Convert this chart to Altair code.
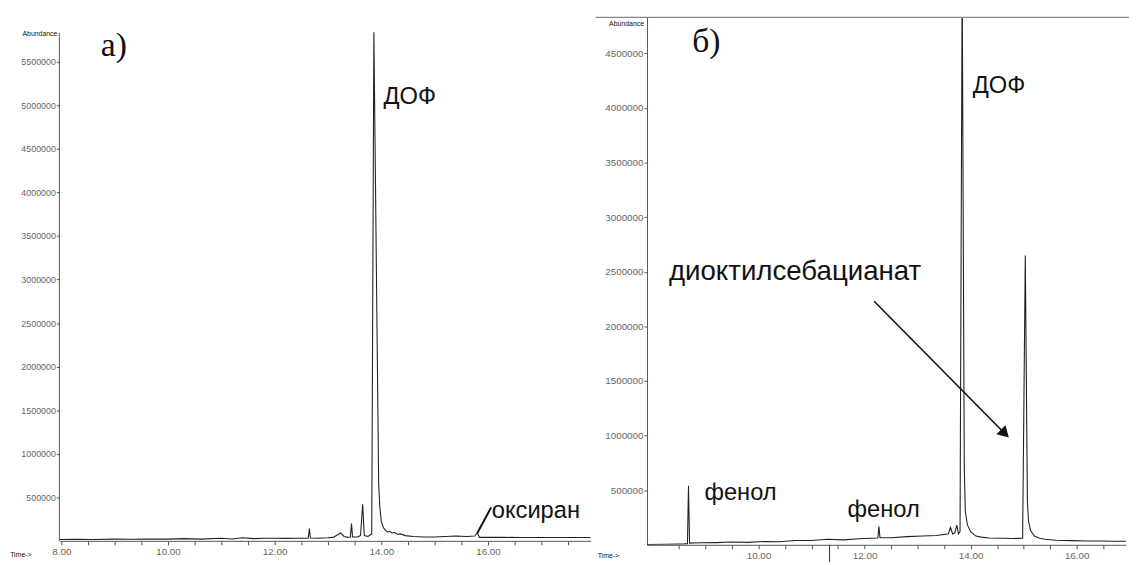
import altair as alt
import pandas as pd

# ---------------- data ----------------
LEFT_TIME = [7.963, 8.3, 8.6, 9.0, 9.3, 9.6, 10.0, 10.3, 10.6, 11.0,
             11.2, 11.4, 11.6, 11.8, 12.0, 12.2, 12.4, 12.6, 12.63, 12.65,
             12.67, 12.8, 13.0, 13.1, 13.18, 13.24, 13.3, 13.38, 13.42, 13.44,
             13.46, 13.55, 13.61, 13.65, 13.68, 13.75, 13.82, 13.86, 13.95, 13.97,
             14.0, 14.04, 14.08, 14.12, 14.16, 14.2, 14.25, 14.3, 14.36, 14.45,
             14.6, 14.8, 15.0, 15.2, 15.4, 15.6, 15.75, 15.8, 15.84, 16.0,
             16.3, 16.6, 17.0, 17.4, 17.926]
LEFT_ABUND = [15000, 17000, 15000, 20000, 18000, 22000, 20000, 25000, 20000, 30000,
              22000, 35000, 25000, 30000, 30000, 28000, 30000, 30000, 32000, 140000,
              32000, 30000, 35000, 40000, 70000, 90000, 50000, 40000, 45000, 200000,
              45000, 45000, 60000, 420000, 60000, 50000, 80000, 5840000, 650000, 400000,
              220000, 150000, 120000, 100000, 110000, 90000, 95000, 75000, 80000, 60000,
              50000, 45000, 45000, 50000, 55000, 50000, 55000, 90000, 40000, 40000,
              40000, 38000, 38000, 38000, 38000]

RIGHT_TIME = [7.898, 8.3, 8.6, 8.66, 8.68, 8.70, 8.9, 9.2, 9.5, 9.8,
              10.1, 10.4, 10.7, 11.0, 11.3, 11.6, 11.9, 12.1, 12.25, 12.27,
              12.29, 12.5, 12.8, 13.1, 13.35, 13.5, 13.58, 13.62, 13.66, 13.7,
              13.74, 13.77, 13.80, 13.84, 13.88, 13.9, 13.94, 14.0, 14.1, 14.2,
              14.35, 14.6, 14.8, 14.98, 15.03, 15.07, 15.09, 15.13, 15.2, 15.3,
              15.4, 15.6, 15.9, 16.2, 16.5, 16.7, 16.93]
RIGHT_ABUND = [3000, 5000, 8000, 10000, 540000, 15000, 18000, 20000, 25000, 22000,
               30000, 28000, 40000, 40000, 50000, 45000, 55000, 60000, 62000, 170000,
               65000, 65000, 75000, 80000, 85000, 95000, 100000, 160000, 100000, 110000,
               180000, 100000, 120000, 5200000, 700000, 300000, 180000, 120000, 80000, 70000,
               62000, 60000, 58000, 60000, 2650000, 400000, 220000, 130000, 80000, 60000,
               50000, 42000, 38000, 35000, 35000, 33000, 32000]

LEFT_Y_TICKS = [500000, 1000000, 1500000, 2000000, 2500000, 3000000,
                3500000, 4000000, 4500000, 5000000, 5500000]
RIGHT_Y_TICKS = [500000, 1000000, 1500000, 2000000, 2500000, 3000000,
                 3500000, 4000000, 4500000]
LEFT_X_TICKS = [8.0, 8.5, 9.0, 9.5, 10.0, 10.5, 11.0, 11.5, 12.0, 12.5,
                13.0, 13.5, 14.0, 14.5, 15.0, 15.5, 16.0, 16.5, 17.0, 17.5]
RIGHT_X_TICKS = [8.5, 9.0, 9.5, 10.0, 10.5, 11.0, 11.5, 12.0, 12.5,
                 13.0, 13.5, 14.0, 14.5, 15.0, 15.5, 16.0, 16.5]

# annotations
LEFT_PEAK_LABELS = ["ДОФ", "оксиран"]
LEFT_PEAK_LABEL_T = [14.04, 16.07]
LEFT_PEAK_LABEL_A = [5100000, 340000]
LEFT_PANEL_LABEL = ["а)"]
LEFT_PANEL_LABEL_T = [8.74]
LEFT_PANEL_LABEL_A = [5680000]
LEFT_LEADER = {"t": [15.80], "a": [90000], "t2": [16.06], "a2": [385000]}

RIGHT_PEAK_LABELS = ["ДОФ", "фенол", "фенол"]
RIGHT_PEAK_LABEL_T = [14.04, 8.98, 11.68]
RIGHT_PEAK_LABEL_A = [4200000, 470000, 320000]
RIGHT_COMPOUND_LABEL = ["диоктилсебацианат"]
RIGHT_COMPOUND_LABEL_T = [8.31]
RIGHT_COMPOUND_LABEL_A = [2500000]
RIGHT_PANEL_LABEL = ["б)"]
RIGHT_PANEL_LABEL_T = [8.75]
RIGHT_PANEL_LABEL_A = [4600000]
RIGHT_ARROW = {"t": [12.18], "a": [2230000], "t2": [14.62], "a2": [1030000]}

# ---------------- helpers ----------------
LINE_COLOR = "#222222"
AXIS_COLOR = "#555555"
LABEL_COLOR = "#666666"


def x_axis(values, show_first=True):
    cond = "datum.value % 2 == 0" if show_first else "datum.value % 2 == 0 && datum.value > 8.2"
    return alt.Axis(title=None, values=values, grid=False,
                    labelExpr=f"{cond} ? format(datum.value, '.2f') : ''",
                    labelFont="Liberation Sans", labelFontSize=10, labelColor=LABEL_COLOR,
                    domainColor=AXIS_COLOR, tickColor=AXIS_COLOR, tickSize=4,
                    labelPadding=2, labelFlush=False, labelOverlap=False)


def y_axis(values, fsize, domain=True):
    return alt.Axis(title=None, values=values, format="d", grid=False,
                    labelFont="Liberation Sans", labelFontSize=fsize, labelColor=LABEL_COLOR,
                    domain=domain, domainColor=AXIS_COLOR, tickColor=AXIS_COLOR, tickSize=3,
                    labelPadding=1, minExtent=52, maxExtent=52)


def make_panel_helpers(xs, ys, xax, yax):
    def enc(chart, **extra):
        return chart.encode(x=alt.X("t:Q", scale=xs, axis=xax),
                            y=alt.Y("a:Q", scale=ys, axis=yax), **extra)

    def text_layer(texts, ts, vals, size, font, align="left"):
        df = pd.DataFrame({"t": ts, "a": vals, "label": texts})
        ch = alt.Chart(df).mark_text(align=align, baseline="middle", font=font,
                                     fontSize=size, color="#111111")
        return enc(ch, text="label:N")

    return enc, text_layer


# ---------------- left panel ----------------
W1, H1 = 538, 530
xs1 = alt.Scale(domain=[7.963, 17.926], nice=False, zero=False)
ys1 = alt.Scale(domain=[0, 6010000], nice=False)
xax1 = x_axis(LEFT_X_TICKS)
yax1 = y_axis(LEFT_Y_TICKS, 9, domain=False)
enc1, text1 = make_panel_helpers(xs1, ys1, xax1, yax1)

left_df = pd.DataFrame({"t": LEFT_TIME, "a": LEFT_ABUND})
left_line = enc1(alt.Chart(left_df).mark_line(color=LINE_COLOR, strokeWidth=1.1, clip=True))

left_yline = enc1(alt.Chart(pd.DataFrame({"t": [7.963], "a": [0], "a2": [5830000]})).mark_rule(
    color=AXIS_COLOR, strokeWidth=1), y2="a2:Q")

left_leader = enc1(alt.Chart(pd.DataFrame(LEFT_LEADER)).mark_rule(color="#111111", strokeWidth=2),
                   x2="t2:Q", y2="a2:Q")

left = alt.layer(
    left_line,
    left_yline,
    left_leader,
    text1(LEFT_PEAK_LABELS, LEFT_PEAK_LABEL_T, LEFT_PEAK_LABEL_A, 24, "Liberation Sans"),
    text1(LEFT_PANEL_LABEL, LEFT_PANEL_LABEL_T, LEFT_PANEL_LABEL_A, 34, "Liberation Serif"),
    text1(["Abundance"], [7.926], [5816000], 7, "Liberation Sans", align="right"),
    text1(["Time->"], [7.04], [-160000], 7, "Liberation Sans"),
).properties(width=W1, height=H1)

# ---------------- right panel ----------------
W2, H2 = 485, 534
xs2 = alt.Scale(domain=[7.898, 16.93], nice=False, zero=False)
ys2 = alt.Scale(domain=[0, 4830000], nice=False)
xax2 = x_axis(RIGHT_X_TICKS, show_first=False)
yax2 = y_axis(RIGHT_Y_TICKS, 10)
enc2, text2 = make_panel_helpers(xs2, ys2, xax2, yax2)

right_df = pd.DataFrame({"t": RIGHT_TIME, "a": RIGHT_ABUND})
right_line = enc2(alt.Chart(right_df).mark_line(color=LINE_COLOR, strokeWidth=1.1, clip=True))

right_frame = alt.Chart(pd.DataFrame({"k": [0]})).mark_rule(color="#888888", strokeWidth=1.5).encode(
    x=alt.value(-52), x2=alt.value(W2 + 3), y=alt.value(0))

right_arrow = enc2(alt.Chart(pd.DataFrame(RIGHT_ARROW)).mark_rule(color="#111111", strokeWidth=1.6),
                   x2="t2:Q", y2="a2:Q")

right_head = enc2(alt.Chart(pd.DataFrame({"t": RIGHT_ARROW["t2"], "a": RIGHT_ARROW["a2"]})).mark_point(
    shape="triangle", angle=135, filled=True, size=170, color="#111111", opacity=1))

right_tick = enc2(alt.Chart(pd.DataFrame({"t": [11.34], "a": [0], "a2": [-160000]})).mark_rule(
    color="#333333", strokeWidth=1), y2="a2:Q")

right = alt.layer(
    right_line,
    right_frame,
    right_tick,
    right_arrow,
    right_head,
    text2(RIGHT_PEAK_LABELS, RIGHT_PEAK_LABEL_T, RIGHT_PEAK_LABEL_A, 24, "Liberation Sans"),
    text2(RIGHT_COMPOUND_LABEL, RIGHT_COMPOUND_LABEL_T, RIGHT_COMPOUND_LABEL_A, 28, "Liberation Sans"),
    text2(RIGHT_PANEL_LABEL, RIGHT_PANEL_LABEL_T, RIGHT_PANEL_LABEL_A, 34, "Liberation Serif"),
    text2(["Abundance"], [7.842], [4765000], 7, "Liberation Sans", align="right"),
    text2(["Time->"], [6.967], [-100000], 7, "Liberation Sans"),
).properties(width=W2, height=H2)

chart = alt.hconcat(left, right, spacing=57, bounds="flush").properties(
    padding={"left": 0, "top": 5, "right": 0, "bottom": 0},
    background="white",
).configure_view(stroke=None)

chart.save("out.html", embed_options={"renderer": "svg", "actions": False})
